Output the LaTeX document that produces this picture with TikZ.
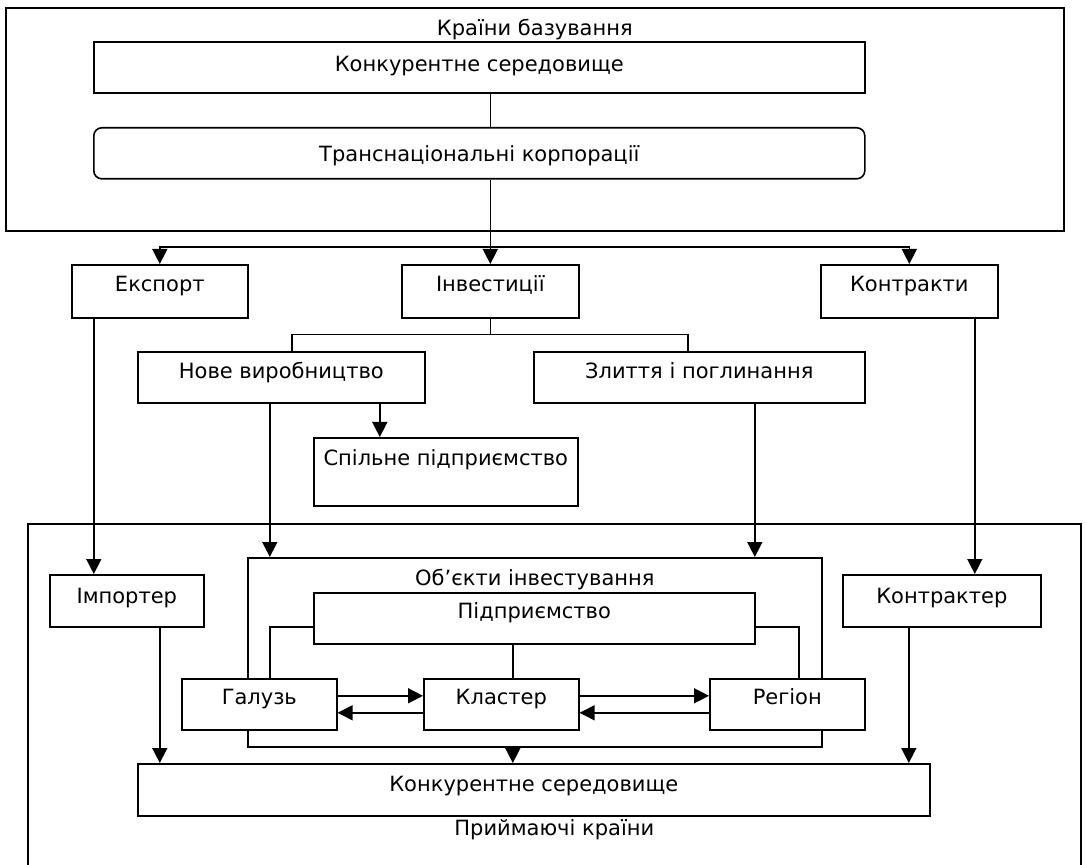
\documentclass[tikz,border=0pt]{standalone}
\usepackage{fontspec}
\setmainfont{DejaVu Sans}
\usetikzlibrary{arrows.meta}

\begin{document}
\begin{tikzpicture}[x=0.5pt,y=-0.5pt,
  every node/.style={font=\fontsize{10.5}{12}\selectfont},
  box/.style={draw,fill=white,line width=0.8pt,anchor=north west,
              inner xsep=0pt,inner ysep=0pt},
  line/.style={line width=0.75pt},
  arr/.style={line width=0.75pt,-{Triangle[length=7.5pt,width=7.5pt]}}]
  \useasboundingbox (0,0) rectangle (1085,865);

  % home countries
  \node[box,minimum width=529pt,text height=14pt,text depth=97.5pt] (home) at (5,7) {Країни базування};
  \node[box,minimum width=385.5pt,text height=15pt,text depth=10.5pt] (compA) at (93,41) {Конкурентне середовище};
  \node[box,rounded corners=4pt,minimum width=385.5pt,text height=17pt,text depth=8.5pt] (tnc) at (93,127) {Транснаціональні корпорації};

  % ways of entry
  \node[box,minimum width=88pt,text height=13.5pt,text depth=13pt] (export) at (71,264) {Експорт};
  \node[box,minimum width=88.5pt,text height=13.5pt,text depth=13pt] (inv) at (401,264) {Інвестиції};
  \node[box,minimum width=88.5pt,text height=13.5pt,text depth=13pt] (contracts) at (820,264) {Контракти};
  \node[box,minimum width=143.5pt,text height=13.5pt,text depth=12pt] (newprod) at (137,351) {Нове виробництво};
  \node[box,minimum width=165.5pt,text height=13.5pt,text depth=12pt] (merger) at (533,351) {Злиття і поглинання};
  \node[box,minimum width=132pt,text height=14pt,text depth=20pt] (joint) at (313,437) {Спільне підприємство};

  % host countries
  \node[box,minimum width=526.5pt,text height=156pt,text depth=22.5pt] (host) at (27,523) {Приймаючі країни};
  \node[box,minimum width=287pt,text height=14pt,text depth=80.5pt] (objects) at (247,557) {Об’єкти інвестування};
  \node[box,minimum width=220.5pt,text height=13pt,text depth=12.5pt] (firm) at (313,592) {Підприємство};
  \node[box,minimum width=77pt,text height=14.5pt,text depth=11.5pt] (importer) at (49,574) {Імпортер};
  \node[box,minimum width=99pt,text height=14.5pt,text depth=11.5pt] (contractor) at (842,574) {Контрактер};
  \node[box,minimum width=77.5pt,text height=13pt,text depth=12.5pt] (industry) at (181,678) {Галузь};
  \node[box,minimum width=77.5pt,text height=13pt,text depth=12.5pt] (cluster) at (423,678) {Кластер};
  \node[box,minimum width=77.5pt,text height=13pt,text depth=12.5pt] (region) at (709,678) {Регіон};
  \node[box,minimum width=396pt,text height=14pt,text depth=12pt] (compB) at (137,763) {Конкурентне середовище};

  \coordinate (fork) at ([yshift=8.5pt]inv.north);
  \coordinate (split) at ([yshift=-8pt]inv.south);

  \draw[line] (compA.south -| inv.north) -- (tnc.north -| inv.north);
  \draw[arr] (tnc.south -| inv.north) -- (inv.north);
  \draw[arr] (fork) -| (export.north);
  \draw[arr] (fork) -| (contracts.north);
  \draw[line] (inv.south) -- (split);
  \draw[line] (split) -| ([xshift=5.25pt]newprod.north);
  \draw[line] (split) -| ([xshift=-5.75pt]merger.north);
  \draw[arr] ([xshift=-33pt]joint.north |- newprod.south) -- ([xshift=-33pt]joint.north);

  \draw[arr] ([xshift=-16.5pt]importer.north |- export.south) -- ([xshift=-16.5pt]importer.north);
  \draw[arr] ([xshift=-132.5pt]objects.north |- newprod.south) -- ([xshift=-132.5pt]objects.north);
  \draw[arr] ([xshift=110pt]objects.north |- merger.south) -- ([xshift=110pt]objects.north);
  \draw[arr] ([xshift=16.5pt]contractor.north |- contracts.south) -- ([xshift=16.5pt]contractor.north);

  \draw[line] ([yshift=-4.25pt]firm.west) -| ([xshift=5.25pt]industry.north);
  \draw[line] ([yshift=-4.25pt]firm.east) -| ([xshift=5.75pt]region.north);
  \draw[line] ([xshift=-10.75pt]firm.south) -- ([xshift=-10.75pt]firm.south |- cluster.north);
  \draw[arr] ([yshift=4.25pt]industry.east) -- ([yshift=4.25pt]industry.east -| cluster.west);
  \draw[arr] ([yshift=-4.25pt]cluster.west) -- ([yshift=-4.25pt]cluster.west -| industry.east);
  \draw[arr] ([yshift=4.25pt]cluster.east) -- ([yshift=4.25pt]cluster.east -| region.west);
  \draw[arr] ([yshift=-4.25pt]region.west) -- ([yshift=-4.25pt]region.west -| cluster.east);

  \draw[arr] ([xshift=-10.75pt]firm.south |- objects.south) -- ([xshift=-10.75pt]firm.south |- compB.north);
  \draw[arr] ([xshift=16.5pt]importer.south) -- ([xshift=16.5pt]importer.south |- compB.north);
  \draw[arr] ([xshift=-16.5pt]contractor.south) -- ([xshift=-16.5pt]contractor.south |- compB.north);
\end{tikzpicture}
\end{document}
